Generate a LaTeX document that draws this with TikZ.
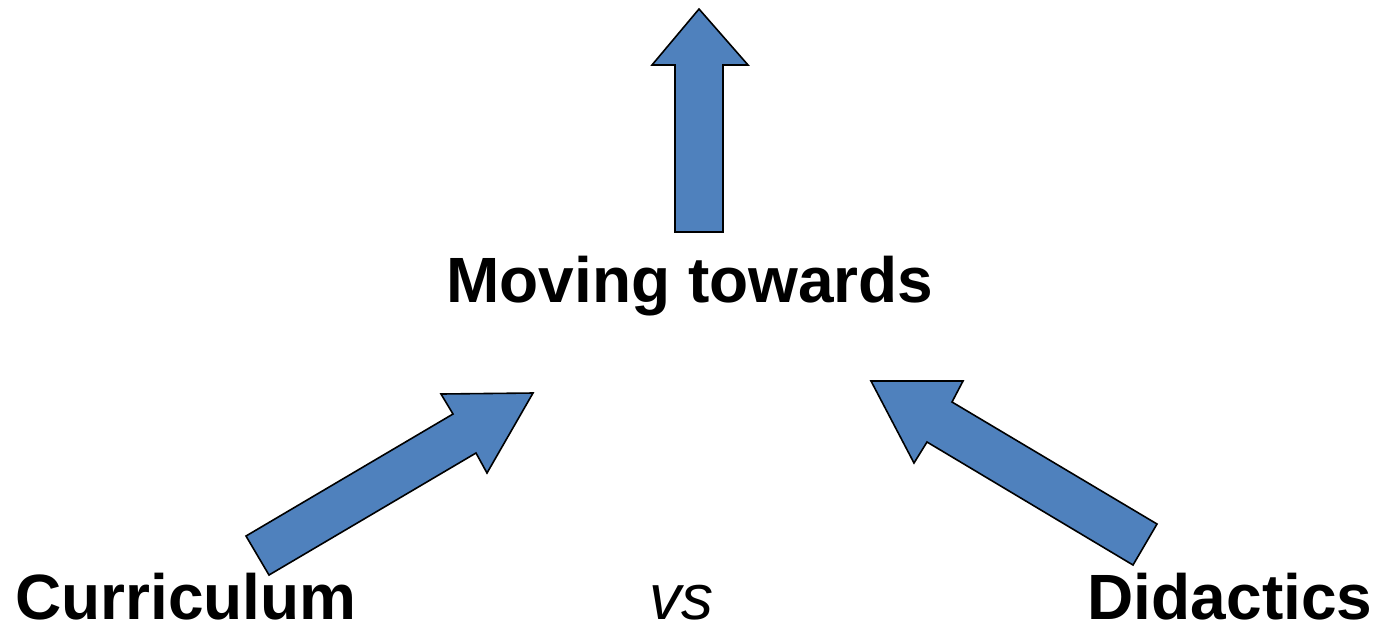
\documentclass[tikz,border=0pt]{standalone}
\definecolor{arrow_c}{rgb}{
	0.3098039215686275, 0.5058823529411764, 0.7411764705882353
	}
\usepackage{fontspec}
\setmainfont{Liberation Sans}
\usepackage{tikz}
\usetikzlibrary{arrows,
                calc,
                positioning}

\begin{document}
\begin{tikzpicture}[
			x=0.5pt, y=-0.5pt,
			block/.style = {fill=arrow_c, draw=black, line width=0.8pt, line join=miter},
			word/.style = {inner sep=0pt, anchor=base, text depth=0pt, font=\fontsize{32}{38}\selectfont\bfseries},
			]
			\useasboundingbox (0,0) rectangle (1375,623);
			% labels
			\node[word] (M) at (690,302) {Moving towards};
			\node[word] (C) at (186,619) {Curriculum};
			\node[word, font=\fontsize{32}{38}\selectfont\itshape] (V) at (681,619) {vs};
			\node[word] (D) at (1230,619) {Didactics};
			% arrows
			\draw[block] (675,232) -- (675,65) -- (652,65) -- (699,9) -- (748,65)
				-- (723,65) -- (723,232) -- cycle;
			\draw[block] (246,536) -- (453,414) -- (441,394) -- (533,393) -- (487,473)
				-- (476,453) -- (269,575) -- cycle;
			\draw[block] (1157,524) -- (952,402) -- (963,381) -- (871,381) -- (914,463)
				-- (927,442) -- (1133,565) -- cycle;
		\end{tikzpicture}
\end{document}
